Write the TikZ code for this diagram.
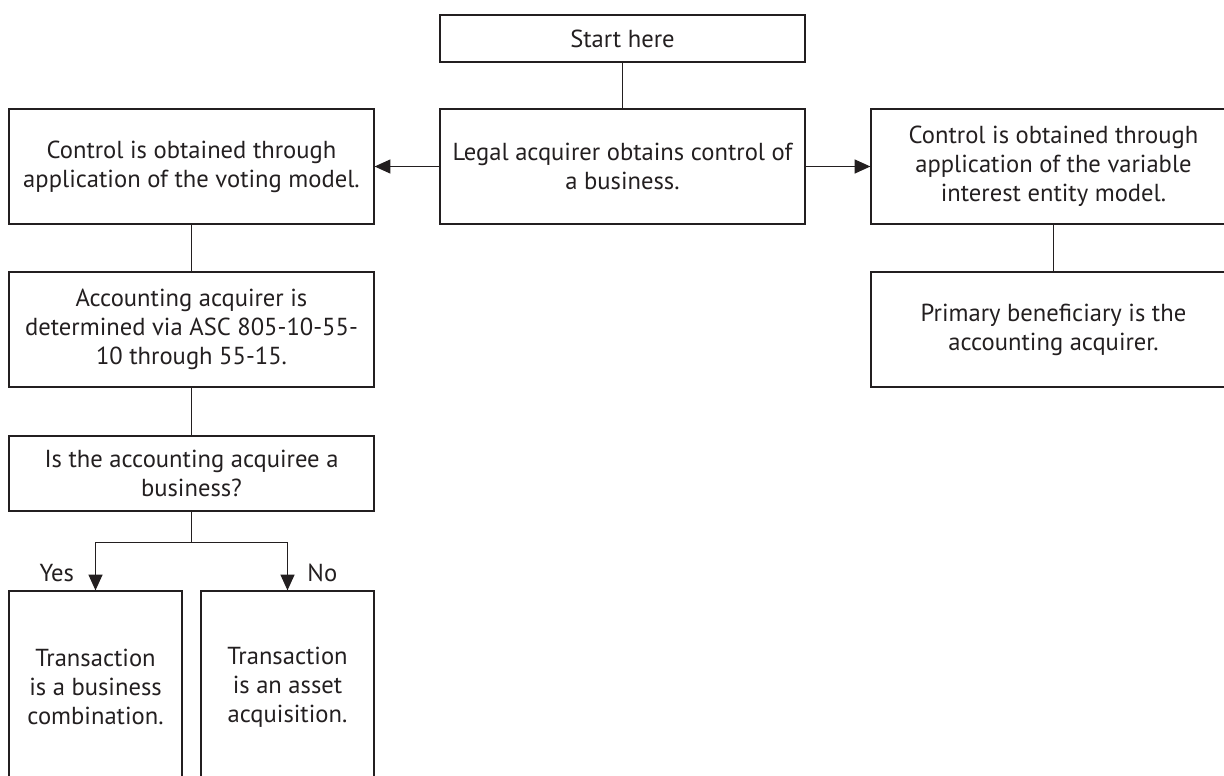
\documentclass[tikz,border=0pt]{standalone}
\usepackage{fontspec}
\setmainfont{PT Sans}
\usepackage{tikz}
\usetikzlibrary{arrows.meta}
\definecolor{ink}{HTML}{231F20}
\tikzset{
		box/.style = {draw=ink, rectangle, line width=0.7pt, align=center,
			minimum width=7.3cm, minimum height=2.3cm, text=ink,
			font=\fontsize{14}{16.4}\selectfont},
		startbox/.style = {box, minimum height=0.94cm},
		askbox/.style = {box, minimum height=1.5cm},
		endbox/.style = {box, minimum width=3.46cm, minimum height=3.84cm},
		answer/.style = {text=ink, font=\fontsize{14}{16.4}\selectfont}
	}

\begin{document}
\begin{tikzpicture}[>={Triangle[length=9pt,width=8pt]}, line width=0.7pt, draw=ink, node distance=2cm]
				\useasboundingbox (0,0) rectangle (24.48,-15.5);
				\clip (0,0) rectangle (24.48,-15.5);

				\node[box]       (legal)    at (12.45,-3.33)                    {Legal acquirer obtains control of\\a business.};
				\node[startbox]  (start)    [above of = legal, node distance=2.56cm] {Start here};
				\node[box]       (voting)   [left of = legal, node distance=8.62cm]  {Control is obtained through\\application of the voting model.};
				\node[box]       (vie)      [right of = legal, node distance=8.62cm] {Control is obtained through\\application of the variable\\interest entity model.};
				\node[box]       (acct)     [below of = voting, node distance=3.26cm] {Accounting acquirer is\\determined via ASC 805-10-55-\\10 through 55-15.};
				\node[box]       (primary)  [below of = vie, node distance=3.26cm]    {Primary beneficiary is the\\accounting acquirer.};
				\node[askbox]    (question) [below of = acct, node distance=2.88cm]   {Is the accounting acquiree a\\business?};
				\node[endbox]    (combo)    [below of = question, node distance=4.27cm, xshift=-1.92cm] {Transaction\\is a business\\combination.};
				\node[endbox]    (asset)    [below of = question, node distance=4.27cm, xshift=1.92cm]  {Transaction\\is an asset\\acquisition.};

				\path[draw=ink]      (start)  edge (legal);
				\path[->, draw=ink]  (legal)  edge (voting);
				\path[->, draw=ink]  (legal)  edge (vie);
				\path[draw=ink]      (voting) edge (acct);
				\path[draw=ink]      (vie)    edge (primary);
				\path[draw=ink]      (acct)   edge (question);

				% split under the question
				\draw[ink] (question.south) -- ++(0,-0.62) coordinate (split);
				\draw[->, ink] (split) -| node[answer, pos=0.82, left=0.3cm]  {Yes} (combo);
				\draw[->, ink] (split) -| node[answer, pos=0.82, right=0.27cm] {No}  (asset);
			\end{tikzpicture}
\end{document}
